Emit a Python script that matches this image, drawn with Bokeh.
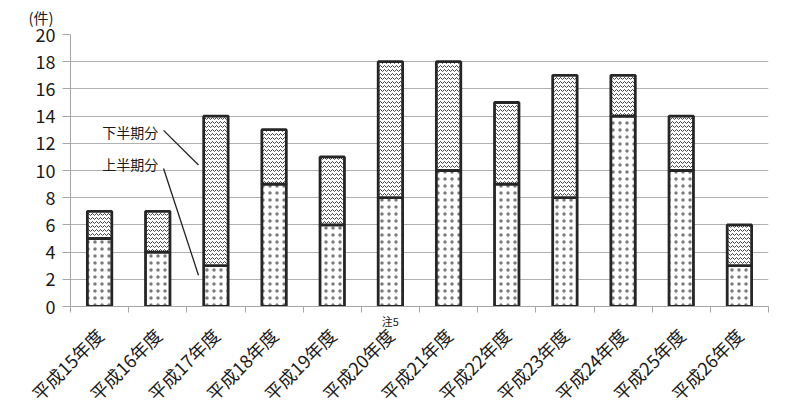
from bokeh.plotting import figure
from bokeh.models import FixedTicker, Range1d, Label, ColumnDataSource, LinearAxis
from bokeh.embed import file_html
from bokeh.resources import INLINE

categories = ["平成15年度", "平成16年度", "平成17年度", "平成18年度", "平成19年度", "平成20年度",
              "平成21年度", "平成22年度", "平成23年度", "平成24年度", "平成25年度", "平成26年度"]
first_half = [5, 4, 3, 9, 6, 8, 10, 9, 8, 14, 10, 3]
second_half = [2, 3, 11, 4, 5, 10, 8, 6, 9, 3, 4, 3]
y_ticks = list(range(0, 21, 2))
note_category = "平成20年度"
note_text = "注5"
unit_text = "(件)"

FONT = "Noto Sans CJK JP"
xs = [i + 0.5 for i in range(len(categories))]
totals = [a + b for a, b in zip(first_half, second_half)]
src = ColumnDataSource(dict(x=xs, lo=first_half, hi=totals, zero=[0] * len(xs)))

p = figure(frame_width=698, frame_height=272, x_range=Range1d(0, len(categories)),
           y_range=Range1d(0, 20), output_backend="svg", toolbar_location=None,
           x_axis_location=None, title=unit_text,
           min_border_left=70, min_border_right=24, min_border_top=34, min_border_bottom=6)
p.outline_line_color = None
p.background_fill_color = "white"

p.title.align = "left"
p.title.offset = -42
p.title.vertical_align = "top"
p.title.standoff = 10
p.title.text_line_height = 0.7
p.title.text_font = FONT
p.title.text_font_size = "15px"
p.title.text_font_style = "normal"
p.title.text_color = "#1a1a1a"

bar_w = 0.42
p.vbar(x="x", bottom="zero", top="lo", width=bar_w, source=src, fill_color="white",
       hatch_pattern="dot", hatch_color="#7a7a7a", hatch_scale=7, hatch_weight=0.55,
       line_color="#262626", line_width=2.8)
p.vbar(x="x", bottom="lo", top="hi", width=bar_w, source=src, fill_color="white",
       hatch_pattern="horizontal_wave", hatch_color="#404040", hatch_scale=4, hatch_weight=1,
       line_color="#262626", line_width=2.8)

# grid + y axis
p.xgrid.visible = False
p.ygrid.ticker = FixedTicker(ticks=y_ticks)
p.ygrid.grid_line_color = "#b0b0b0"
p.ygrid.grid_line_width = 1.2

p.yaxis.ticker = FixedTicker(ticks=y_ticks)
p.yaxis.axis_line_color = "#a6a6a6"
p.yaxis.major_tick_line_color = "#a6a6a6"
p.yaxis.major_tick_out = 8
p.yaxis.major_tick_in = 0
p.yaxis.minor_tick_line_color = None
p.yaxis.major_label_standoff = 7
p.yaxis.major_label_text_font = FONT
p.yaxis.major_label_text_font_size = "18px"
p.yaxis.major_label_text_color = "#1a1a1a"

# x axis 1 (next to frame): axis line, boundary ticks, note label
note_x = xs[categories.index(note_category)]
ax1 = LinearAxis(ticker=FixedTicker(ticks=[note_x], minor_ticks=list(range(len(categories) + 1))),
                 major_label_overrides={note_x: note_text})
ax1.major_tick_line_color = None
ax1.major_tick_out = 0
ax1.major_tick_in = 0
ax1.minor_tick_line_color = "#a6a6a6"
ax1.minor_tick_out = 6
ax1.minor_tick_in = 0
ax1.axis_line_color = "#a6a6a6"
ax1.major_label_standoff = 0
ax1.major_label_text_font = FONT
ax1.major_label_text_font_size = "11px"
ax1.major_label_text_color = "#1a1a1a"
p.add_layout(ax1, "below")

# x axis 2: rotated category labels
ax2 = LinearAxis(ticker=FixedTicker(ticks=xs),
                 major_label_overrides={x: c for x, c in zip(xs, categories)})
ax2.major_label_orientation = 0.785398
ax2.axis_line_color = None
ax2.major_tick_line_color = None
ax2.minor_tick_line_color = None
ax2.major_tick_out = 0
ax2.major_tick_in = 0
ax2.major_label_standoff = 0
ax2.major_label_text_font = FONT
ax2.major_label_text_font_size = "18px"
ax2.major_label_text_color = "#1a1a1a"
p.add_layout(ax2, "below")

# callouts
p.segment(x0=[1.6, 1.6], y0=[12.95, 10.15], x1=[2.2, 2.2], y1=[10.4, 2.3],
          line_color="#222222", line_width=1.3)
p.add_layout(Label(x=1.51, y=12.85, text="下半期分", text_align="right", text_baseline="middle",
                   text_font=FONT, text_font_size="14px", text_color="#1a1a1a"))
p.add_layout(Label(x=1.51, y=10.45, text="上半期分", text_align="right", text_baseline="middle",
                   text_font=FONT, text_font_size="14px", text_color="#1a1a1a"))

open("out.html", "w").write(file_html(p, INLINE))
